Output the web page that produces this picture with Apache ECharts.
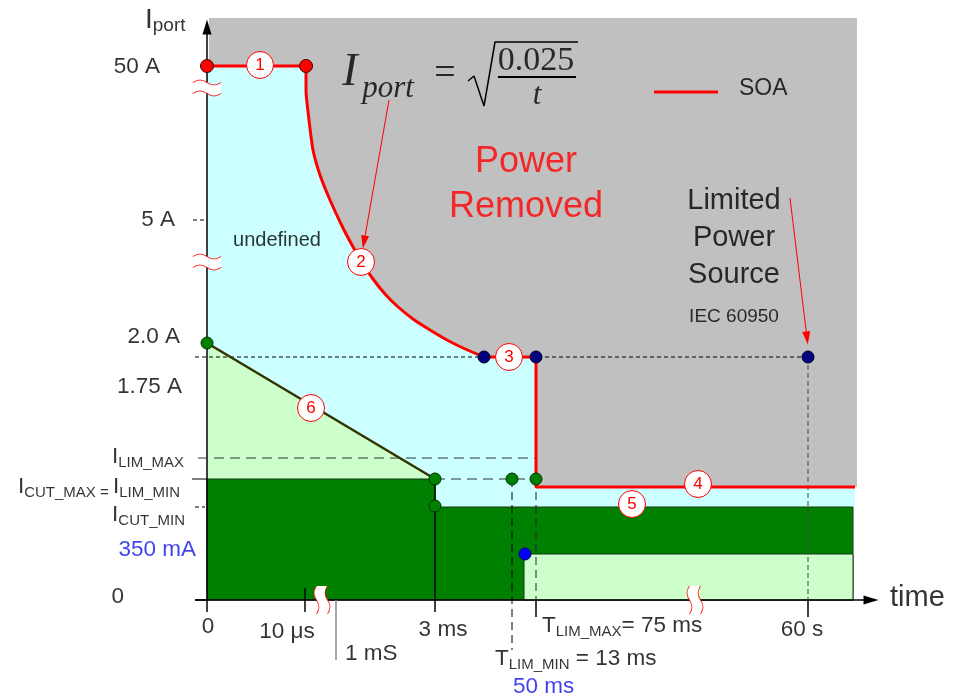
<!DOCTYPE html>
<html><head><meta charset="utf-8">
<script src="https://cdn.jsdelivr.net/npm/echarts@6/dist/echarts.min.js"></script>
<style>html,body{margin:0;padding:0;background:#fff}#c{width:967px;height:697px}</style>
</head><body><div id="c"></div><script>
const SANS = 'Liberation Sans, Arial, sans-serif';
const SERIF = 'Liberation Serif, Times New Roman, serif';

// ---- Schematic data (x = position along broken time axis, y = position along broken current axis) ----
const grayRegion   = [[2,582],[650,582],[650,113],[2,113]];
const soaTop       = [[0,534],[99,534]];
const soaCurve     = [[99,534],[99,510],[102,480],[106,450],[113,425],[123,400],[136,372],[145,355],[154,339],[166,321],[178,306],[190,294],[206,281],[223,270],[240,260],[256,252],[277,243]];
const soaTail      = [[277,243],[329,243],[329,113],[648,113]];
const lightTriangle= [[0,257],[228,121],[0,121]];
const darkGreen    = [[0,121],[228,121],[228,93],[646,93],[646,0],[0,0]];
const lightRect    = [[317,0],[317,46],[646,46],[646,0]];
const foldback     = [[0,257],[228,121]];

const refLevel175  = [[-12,243],[601,243]];
const ref60s       = [[601,243],[601,0]];
const refIlimMax   = [[-9,142],[329,142]];
const refIlimMin   = [[228,121],[329,121]];
const tickIcutMax  = [[-15,121],[0,121]];
const tickIcutMin  = [[-12,93],[-2,93]];
const tick5A       = [[-14,380],[-2,380]];
const line3ms      = [[228,121],[228,-12]];
const refTlimMin   = [[305,121],[305,-50]];
const refTlimMax   = [[329,121],[329,0]];
const tickTlimMax  = [[329,0],[329,-17]];
const tick60s      = [[601,0],[601,-17]];
const tick10us     = [[98,12],[98,-12]];
const tick1ms      = [[129,0],[129,-60]];
const tick0        = [[0,0],[0,-12]];
const tick0A       = [[-12,0],[0,0]];
const legendLine   = [[447,508],[511,508]];

const xAxisLine    = [[-12,0],[664,0]];
const yAxisLine    = [[0,0],[0,573]];
const redArrows    = [[[182,500],[157,358]],[[583,402],[600,262]]];

const redDots      = [[0,534],[99,534]];
const navyDots     = [[277,243],[329,243],[601,243]];
const greenDots    = [[0,257],[228,121],[228,94],[305,121],[329,121]];
const blueDots     = [[318,46]];

const segNums      = ['1','2','3','4','5','6'];
const segPos       = [[53,535],[154,338],[302,243],[491,116],[425,96],[104,192]];

const yBreaks      = [[0,512],[0,338]];
const xBreaks      = [[115,0],[488,0]];

const currentTickText = ['50 A','5 A','2.0 A','1.75 A','{m|I}{s|LIM_MAX}','{m|I}{s|CUT_MAX = }{m|I}{s|LIM_MIN}','{m|I}{s|CUT_MIN}','350 mA','0'];
const currentTickPos  = [[-47,533],[-32,380],[-27,263],[-25,213],[-23,143],[-27,113],[-22,85],[-11,50],[-83,3]];
const timeTickText    = ['0','10 μs','1 mS','3 ms','{m|T}{s|LIM_MAX}{m|= 75 ms}','{m|T}{s|LIM_MIN}{m| = 13 ms}','50 ms','60 s'];
const timeTickPos     = [[1,-27],[80,-32],[138,-54],[236,-30],[335,-26],[288,-59],[306,-87],[595,-30]];
const timeTickAlign   = ['center','center','left','center','left','left','left','center'];

// ---- helpers ----
function polygon(pts, fill, stroke, lw, z) {
  return {type:'custom', coordinateSystem:'cartesian2d', silent:true, z:z, data:pts, encode:{x:0,y:1},
    renderItem:function(params, api){
      if (params.dataIndex !== 0) return null;
      return {type:'polygon', shape:{points: pts.map(function(p){return api.coord(p);})},
        style:{fill:fill, stroke:stroke||'none', lineWidth:lw||0}};
    }};
}
function lineS(pts, color, width, type, z, smooth) {
  return {type:'line', data:pts, symbol:'none', silent:true, z:z||5, smooth:smooth||false,
    lineStyle:{color:color, width:width, type:type||'solid'}};
}
function dotS(pts, fill, border, size) {
  return {type:'scatter', data:pts, symbolSize:size, silent:true, z:20,
    itemStyle:{color:fill, borderColor:border, borderWidth:1, opacity:1}};
}
const rich = {
  m:{fontSize:22.5, lineHeight:27, fontFamily:SANS},
  s:{fontSize:15, lineHeight:15, verticalAlign:'bottom', fontFamily:SANS},
  a:{fontSize:28, lineHeight:30, fontFamily:SANS},
  p:{fontSize:19, lineHeight:19, verticalAlign:'bottom', fontFamily:SANS}
};
function textItem(pos, text, style) {
  return {value:pos, label:Object.assign({show:true, position:'inside', formatter:text,
    fontFamily:SANS, fontSize:22.5, color:'#000', align:'center', verticalAlign:'middle', rich:rich}, style||{})};
}

const texts = [];
currentTickText.forEach(function(t,i){
  texts.push(textItem(currentTickPos[i], t, {align:'right', color: t==='350 mA' ? '#1010ee' : '#000'}));
});
timeTickText.forEach(function(t,i){
  texts.push(textItem(timeTickPos[i], t, {align:timeTickAlign[i], color: t==='50 ms' ? '#1010ee' : '#000'}));
});
texts.push(textItem([-62,580], '{a|I}{p|port}', {align:'left'}));
texts.push(textItem([683,2], 'time', {align:'left', fontSize:29}));
texts.push(textItem([70,360], 'undefined', {fontSize:20}));
texts.push(textItem([319,415], 'Power\nRemoved', {fontSize:36, lineHeight:45, color:'#ff0000'}));
texts.push(textItem([527,362], 'Limited\nPower\nSource', {fontSize:29, lineHeight:37}));
texts.push(textItem([527,283], 'IEC 60950', {fontSize:19}));
texts.push(textItem([532,511], 'SOA', {align:'left', fontSize:23}));
// formula
texts.push(textItem([143,527], 'I', {fontFamily:SERIF, fontStyle:'italic', fontSize:46}));
texts.push(textItem([181,511], 'port', {fontFamily:SERIF, fontStyle:'italic', fontSize:31}));
texts.push(textItem([238,526], '=', {fontFamily:SERIF, fontSize:38}));
texts.push(textItem([329,539], '0.025', {fontFamily:SERIF, fontSize:34}));
texts.push(textItem([330,504], 't', {fontFamily:SERIF, fontStyle:'italic', fontSize:31}));
const fracBar   = [[291,523],[369,523]];
const rootSign  = [[261,519],[267,524],[277,494],[288,558],[371,558]];

const pathWaveH  = 'path://M0,3 C5,0 9,0 14,3 C19,6 23,6 28,3 L28,13 C23,16 19,16 14,13 C9,10 5,10 0,13 Z';
const pathWaveHs = 'path://M0,3 C5,0 9,0 14,3 C19,6 23,6 28,3 M0,13 C5,10 9,10 14,13 C19,16 23,16 28,13';
const pathWaveV  = 'path://M3,0 C0,5 0,9 3,14 C6,19 6,23 3,28 L13,28 C16,23 16,19 13,14 C10,9 10,5 13,0 Z';
const pathWaveVs = 'path://M3,0 C0,5 0,9 3,14 C6,19 6,23 3,28 M13,0 C10,5 10,9 13,14 C16,19 16,23 13,28';

const series = [
  polygon(grayRegion, '#c0c0c0', null, 0, 1),
  polygon([[0,93]].concat(soaTop, soaCurve.slice(1), soaTail.slice(1), [[648,93]]), '#ccffff', null, 0, 2),
  polygon(lightTriangle, '#ccffcc', null, 0, 3),
  polygon(darkGreen, '#008000', '#143814', 1, 3),
  polygon(lightRect, '#ccffcc', '#143814', 1, 4),
  lineS(foldback, '#333300', 2.5, 'solid', 8),
  lineS(refLevel175, '#000', 1, [4,3], 6),
  lineS(ref60s, '#444', 1, [5,3], 6),
  lineS(refIlimMax, '#333', 1, [10,6], 6),
  lineS(refIlimMin, '#333', 1, [10,6], 6),
  lineS(tickIcutMax, '#000', 1, 'solid', 6),
  lineS(tickIcutMin, '#000', 1, [4,3], 6),
  lineS(tick5A, '#000', 1, [4,3], 6),
  lineS(line3ms, '#000', 1.5, 'solid', 7),
  lineS(refTlimMin, '#000', 1, [8,5], 7),
  lineS(refTlimMax, '#222', 1, [8,5], 7),
  lineS(tickTlimMax, '#000', 1.5, 'solid', 7),
  lineS(tick60s, '#000', 1.5, 'solid', 7),
  lineS(tick10us, '#000', 1.5, 'solid', 7),
  lineS(tick1ms, '#888', 1.5, 'solid', 7),
  lineS(tick0, '#000', 1.5, 'solid', 7),
  lineS(tick0A, '#000', 1.5, 'solid', 7),
  lineS(soaTop, '#ff0000', 3, 'solid', 10),
  lineS(soaCurve, '#ff0000', 3, 'solid', 10, 0.2),
  lineS(soaTail, '#ff0000', 3, 'solid', 10),
  lineS(legendLine, '#ff0000', 3, 'solid', 10),
  lineS(fracBar, '#000', 2, 'solid', 10),
  lineS(rootSign, '#000', 1.5, 'solid', 10),
  {type:'line', data:[[0,0]], symbol:'none', lineStyle:{width:0}, silent:true, z:12,
    markLine:{silent:true, animation:false, symbol:['none','triangle'], symbolSize:[9,15], label:{show:false},
      lineStyle:{color:'#000', width:1.5, type:'solid'},
      data:[xAxisLine, yAxisLine].map(function(l){return [{coord:l[0]},{coord:l[1]}];})}},
  {type:'line', data:[[0,0]], symbol:'none', lineStyle:{width:0}, silent:true, z:12,
    markLine:{silent:true, animation:false, symbol:['none','triangle'], symbolSize:[8,13], label:{show:false},
      lineStyle:{color:'#ff0000', width:1, type:'solid'},
      data:redArrows.map(function(l){return [{coord:l[0]},{coord:l[1]}];})}},
  {type:'scatter', data:yBreaks, symbol:pathWaveH, symbolSize:[28,16], silent:true, z:14, itemStyle:{color:'#fff', opacity:1}},
  {type:'scatter', data:yBreaks, symbol:pathWaveHs, symbolSize:[28,16], silent:true, z:15, itemStyle:{color:'rgba(0,0,0,0)', borderColor:'#ff0000', borderWidth:1.2}},
  {type:'scatter', data:xBreaks, symbol:pathWaveV, symbolSize:[16,28], silent:true, z:14, itemStyle:{color:'#fff', opacity:1}},
  {type:'scatter', data:xBreaks, symbol:pathWaveVs, symbolSize:[16,28], silent:true, z:15, itemStyle:{color:'rgba(0,0,0,0)', borderColor:'#ff0000', borderWidth:1.2}},
  dotS(redDots, '#ff0000', '#400000', 13),
  dotS(navyDots, '#000080', '#000020', 12),
  dotS(greenDots, '#008000', '#003000', 12),
  dotS(blueDots, '#0000ff', '#000060', 12),
  {type:'scatter', silent:true, z:25, symbolSize:27,
    data:segPos.map(function(p,i){return {value:p, name:segNums[i]};}),
    itemStyle:{color:'#fff', borderColor:'#ff0000', borderWidth:1, opacity:1},
    label:{show:true, position:'inside', formatter:'{b}', color:'#ff0000', fontSize:17, fontFamily:SANS}},
  {type:'scatter', silent:true, z:30, symbolSize:1, itemStyle:{color:'rgba(0,0,0,0)'}, data:texts}
];

const chart = echarts.init(document.getElementById('c'), null, {renderer:'canvas'});
chart.setOption({
  animation:false,
  grid:{left:0, right:0, top:0, bottom:0},
  xAxis:{type:'value', min:-207, max:760, show:false},
  yAxis:{type:'value', min:-97, max:600, show:false},
  series:series
});
</script></body></html>
